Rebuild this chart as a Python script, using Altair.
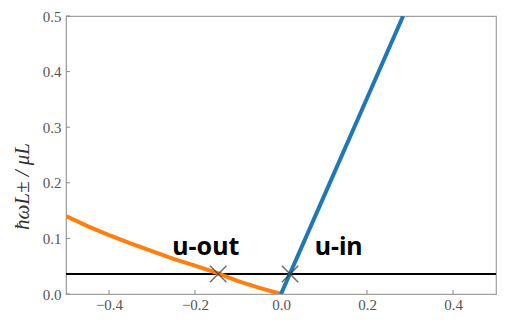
import altair as alt
import pandas as pd

# orange branch (u-out)
out_x = [-0.5, -0.45, -0.4, -0.35, -0.3, -0.25, -0.2, -0.146, -0.1, -0.05, 0.0]
out_y = [0.140, 0.122, 0.106, 0.091, 0.077, 0.063, 0.051, 0.037, 0.023, 0.011, 0.0]
# blue branch (u-in)
in_x = [0.0, 0.1, 0.2, 0.284]
in_y = [0.0, 0.176, 0.352, 0.5]
# horizontal level
level = 0.036
# crossing markers
cross_x = [-0.146, 0.021]
cross_y = [0.036, 0.036]
# labels
lab_text = ["u-out", "u-in"]
lab_x = [-0.175, 0.134]
lab_y = [0.07, 0.07]
x_ticks = [-0.4, -0.2, 0.0, 0.2, 0.4]
y_ticks = [0.0, 0.1, 0.2, 0.3, 0.4, 0.5]

W, H = 430, 278

xs = alt.Scale(domain=[-0.5, 0.5], nice=False, zero=False)
ys = alt.Scale(domain=[0, 0.5], nice=False, zero=False)

serif = "Liberation Serif"
xax = alt.Axis(values=x_ticks, format=".1f", title=None, grid=False, tickSize=0,
               labelPadding=3, labelFont=serif, labelFontSize=15, labelColor="#555",
               domainColor="#a0a0a0")
yax = alt.Axis(values=y_ticks, format=".1f", title="ħωL± / μL", grid=False, tickSize=0,
               labelPadding=5, labelFont=serif, labelFontSize=15, labelColor="#555",
               domainColor="#a0a0a0", titleFont=serif, titleFontStyle="italic",
               titleFontWeight="normal", titleFontSize=21, titleColor="#333",
               titleAngle=-90, titleX=-44, titleY=170, titleAlign="center",
               titleBaseline="middle")

df_out = pd.DataFrame({"x": out_x, "y": out_y})
df_in = pd.DataFrame({"x": in_x, "y": in_y})
df_cross = pd.DataFrame({"x": cross_x, "y": cross_y})
df_lab = pd.DataFrame({"t": lab_text, "x": lab_x, "y": lab_y})
df_xt = pd.DataFrame({"x": x_ticks})
df_yt = pd.DataFrame({"y": y_ticks})

base_x = alt.X("x:Q", scale=xs, axis=xax)
base_y = alt.Y("y:Q", scale=ys, axis=yax)

xticks = alt.Chart(df_xt).mark_rule(color="#888", strokeWidth=1).encode(
    x=alt.X("x:Q", scale=xs, axis=xax), y=alt.value(H), y2=alt.value(H - 4))
yticks = alt.Chart(df_yt).mark_rule(color="#888", strokeWidth=1).encode(
    y=alt.Y("y:Q", scale=ys, axis=yax), x=alt.value(0), x2=alt.value(4))

hline = alt.Chart(pd.DataFrame({"y": [level]})).mark_rule(color="black", strokeWidth=2).encode(
    y=alt.Y("y:Q", scale=ys, axis=yax))

orange = alt.Chart(df_out).mark_line(color="#ff7f0e", strokeWidth=4, clip=True).encode(
    x=base_x, y=base_y)
blue = alt.Chart(df_in).mark_line(color="#1f77b4", strokeWidth=4, clip=True).encode(
    x=base_x, y=base_y)

crosses = alt.Chart(df_cross).mark_point(
    shape="M-1,-1L1,1M-1,1L1,-1", size=270, color="#333", strokeWidth=1.5, filled=False
).encode(x=base_x, y=base_y)

labels = alt.Chart(df_lab).mark_text(
    font="Noto Sans", fontWeight="bold", fontSize=25, color="black",
    align="center", baseline="alphabetic"
).encode(x=base_x, y=base_y, text="t:N")

chart = alt.layer(xticks, yticks, hline, orange, blue, crosses, labels).properties(
    width=W, height=H,
    autosize=alt.AutoSizeParams(type="none"),
    padding={"left": 58, "top": 8, "right": 1, "bottom": 18},
).configure_view(stroke="#a0a0a0", strokeWidth=1.2).configure_axis(
    labelFont=serif, titleFont=serif
)

chart.save("out.html", embed_options={"renderer": "svg", "actions": False})
